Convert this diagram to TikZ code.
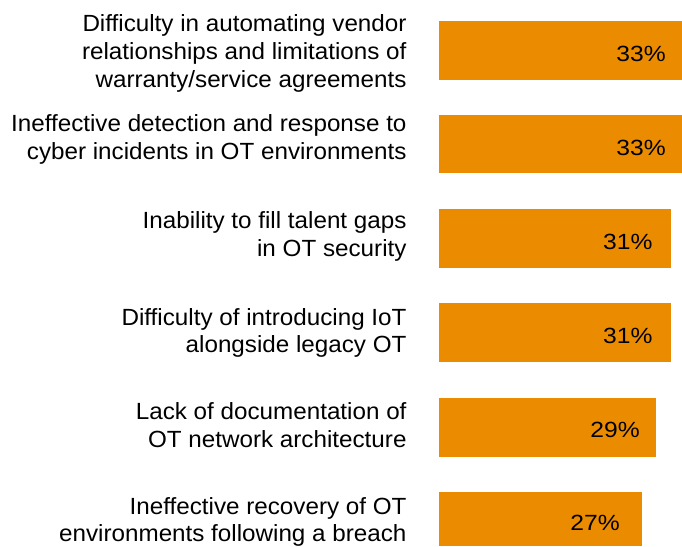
\documentclass[tikz,border=0pt]{standalone}
\usepackage{fontspec}
\setmainfont{Liberation Sans}
\newfontfamily\lblfont[FakeStretch=1.035]{Liberation Sans}
\newfontfamily\valfont[FakeStretch=1.12]{Liberation Sans}
\definecolor{barorange}{RGB}{235,140,0}
\tikzset{
  lbl/.style={anchor=base east, align=right, inner sep=0pt, font=\lblfont\fontsize{23.4}{27.7}\selectfont},
  bar/.style={fill=barorange, draw=none, inner sep=0pt},
  val/.style={anchor=base east, inner sep=0pt, font=\valfont\fontsize{22}{25}\selectfont}
}
\begin{document}
\begin{tikzpicture}[x=1pt,y=-1pt]
\useasboundingbox (0,0) rectangle (682,546);
\fill[white] (0,0) rectangle (682,546);
% bars
\path[bar] (438.7,21) rectangle (682,80) node[pos=0.5] (b1) {};
\path[bar] (438.7,115) rectangle (682,173.3) node[pos=0.5] (b2) {};
\path[bar] (438.7,209.3) rectangle (671,268) node[pos=0.5] (b3) {};
\path[bar] (438.7,303.3) rectangle (671,362.3) node[pos=0.5] (b4) {};
\path[bar] (438.7,397.7) rectangle (656.3,456.7) node[pos=0.5] (b5) {};
\path[bar] (438.7,492) rectangle (641.7,546) node[pos=0.5] (b6) {};
% values
\node[val] (v1) at (666,61.7) {33\%};
\node[val] (v2) at (666,155.7) {33\%};
\node[val] (v3) at (652.7,249.3) {31\%};
\node[val] (v4) at (652.7,343.5) {31\%};
\node[val] (v5) at (640,437.5) {29\%};
\node[val] (v6) at (620,530.5) {27\%};
% labels
\node[lbl] (l1) at (406.7,87.1) {Difficulty in automating vendor\\relationships and limitations of\\warranty/service agreements};
\node[lbl] (l2) at (406.7,159.3) {Ineffective detection and response to\\cyber incidents in OT environments};
\node[lbl] (l3) at (406.7,256) {Inability to fill talent gaps\\in OT security};
\node[lbl] (l4) at (406.7,352.7) {Difficulty of introducing IoT\\alongside legacy OT};
\node[lbl] (l5) at (406.7,447.3) {Lack of documentation of\\OT network architecture};
\node[lbl] (l6) at (406.7,541.7) {Ineffective recovery of OT\\environments following a breach};
\end{tikzpicture}
\end{document}
